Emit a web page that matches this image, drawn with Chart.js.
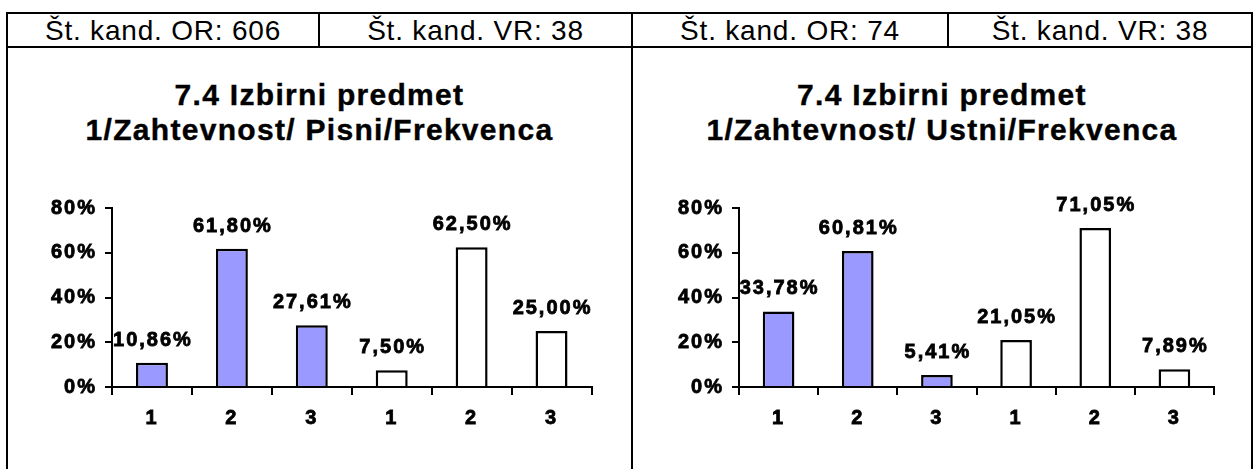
<!DOCTYPE html>
<html>
<head>
<meta charset="utf-8">
<script src="https://cdn.jsdelivr.net/npm/chart.js@4"></script>
<style>
  body { margin: 0; background: #fff; width: 1258px; height: 469px; position: relative; overflow: hidden;
         font-family: "Liberation Sans", Arial, sans-serif; color: #000; }
  .line { position: absolute; background: #000; z-index: 2; }
  .head { position: absolute; top: 14px; height: 32px; line-height: 33px; text-align: center;
          font-size: 28px; letter-spacing: 0.8px; white-space: nowrap; }
  .title { position: absolute; top: 77px; text-align: center; font-weight: bold; font-size: 30px;
           line-height: 35px; letter-spacing: 1.3px; white-space: nowrap; -webkit-text-stroke: 0.4px #000; }
  canvas { position: absolute; top: 48px; }
</style>
</head>
<body>
<div class="line" style="left:6px;top:12px;width:1247px;height:2px"></div>
<div class="line" style="left:6px;top:46px;width:1247px;height:2px"></div>
<div class="line" style="left:6px;top:12px;width:2px;height:457px"></div>
<div class="line" style="left:1251px;top:12px;width:2px;height:457px"></div>
<div class="line" style="left:631px;top:12px;width:2px;height:457px"></div>
<div class="line" style="left:318px;top:12px;width:2px;height:35px"></div>
<div class="line" style="left:947px;top:12px;width:2px;height:35px"></div>

<div class="head" style="left:8px;width:310px">Št. kand. OR: 606</div>
<div class="head" style="left:320px;width:311px">Št. kand. VR: 38</div>
<div class="head" style="left:633px;width:314px">Št. kand. OR: 74</div>
<div class="head" style="left:949px;width:302px">Št. kand. VR: 38</div>

<div class="title" style="left:8px;width:623px">7.4 Izbirni predmet<br>1/Zahtevnost/ Pisni/Frekvenca</div>
<div class="title" style="left:633px;width:618px">7.4 Izbirni predmet<br>1/Zahtevnost/ Ustni/Frekvenca</div>

<canvas id="pisni" width="623" height="421" style="left:8px"></canvas>
<canvas id="ustni" width="618" height="421" style="left:633px"></canvas>

<script>
const categories = ["1", "2", "3", "1", "2", "3"];
const yTicks = [0, 20, 40, 60, 80];
// OR = osnovna raven, VR = visja raven
const pisniOR = [10.86, 61.80, 27.61];
const pisniVR = [7.50, 62.50, 25.00];
const ustniOR = [33.78, 60.81, 5.41];
const ustniVR = [21.05, 71.05, 7.89];

const colorOR = "#9999ff";
const colorVR = "#ffffff";
const font = '"Liberation Sans", Arial, sans-serif';

// the original text is stretched wide, fake it with spacing
const spacing = {
  id: "spacing",
  beforeUpdate(chart) { chart.ctx.letterSpacing = "2px"; },
  beforeDraw(chart) { chart.ctx.letterSpacing = "2px"; }
};

const barLabels = {
  id: "barLabels",
  afterDatasetsDraw(chart) {
    const ctx = chart.ctx;
    ctx.save();
    ctx.font = "bold 20px " + font;
    ctx.fillStyle = "#000";
    ctx.strokeStyle = "#000";
    ctx.lineWidth = 0.8;
    ctx.textAlign = "center";
    ctx.textBaseline = "alphabetic";
    const values = chart.data.datasets[0].data;
    chart.getDatasetMeta(0).data.forEach((bar, i) => {
      const txt = values[i].toFixed(2).replace(".", ",") + "%";
      ctx.strokeText(txt, bar.x + 1, bar.y - 17);
      ctx.fillText(txt, bar.x + 1, bar.y - 17);
    });
    ctx.restore();
  }
};

function makeChart(id, orValues, vrValues, yWidth, rightPad) {
  const values = orValues.concat(vrValues);
  const colors = orValues.map(() => colorOR).concat(vrValues.map(() => colorVR));
  const tickFont = { family: font, size: 20, weight: "bold" };
  new Chart(document.getElementById(id), {
    type: "bar",
    data: {
      labels: categories,
      datasets: [
        {
          data: values,
          backgroundColor: colors,
          borderColor: "#000",
          borderWidth: 2.5,
          barPercentage: 0.4,
          categoryPercentage: 1,
        },
      ],
    },
    options: {
      responsive: false,
      animation: false,
      devicePixelRatio: 1,
      layout: { padding: { top: 160, right: rightPad, bottom: 0, left: 0 } },
      plugins: { legend: { display: false }, tooltip: { enabled: false } },
      scales: {
        x: {
          grid: { display: true, offset: true, drawOnChartArea: false, drawTicks: true,
                  tickLength: 8, color: "#000", lineWidth: 2 },
          border: { display: true, color: "#000", width: 2 },
          ticks: { color: "#000", padding: 11, font: tickFont,
                   textStrokeColor: "#000", textStrokeWidth: 0.8 },
          afterFit(scale) { scale.height = 82; },
        },
        y: {
          min: 0,
          max: 80,
          grid: { display: true, drawOnChartArea: false, drawTicks: true,
                  tickLength: 7, color: "#000", lineWidth: 2 },
          border: { display: true, color: "#000", width: 2 },
          ticks: { color: "#000", padding: 8, font: tickFont,
                   textStrokeColor: "#000", textStrokeWidth: 0.8,
                   callback: (v) => v + "%" },
          afterBuildTicks(scale) { scale.ticks = yTicks.map((v) => ({ value: v })); },
          afterFit(scale) { scale.width = yWidth; },
        },
      },
    },
    plugins: [spacing, barLabels],
  });
}

makeChart("pisni", pisniOR, pisniVR, 104, 39.5);
makeChart("ustni", ustniOR, ustniVR, 106, 37);
</script>
</body>
</html>
